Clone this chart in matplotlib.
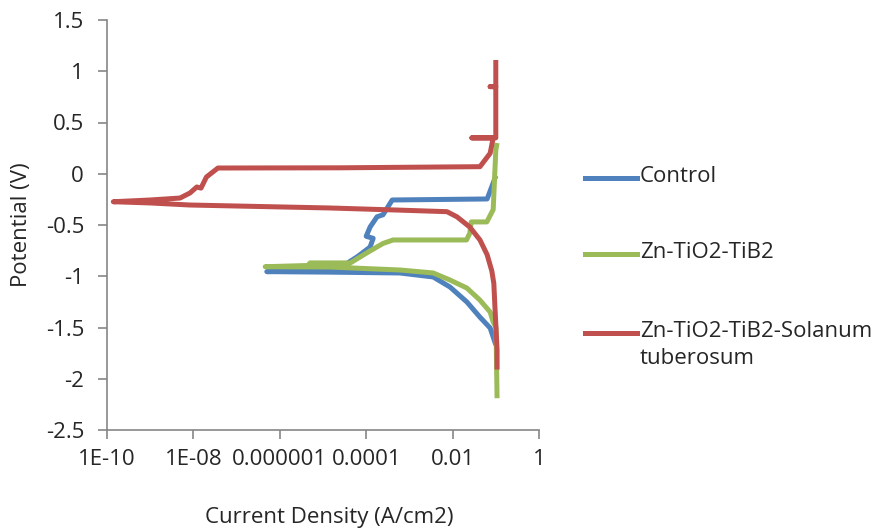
import matplotlib
matplotlib.use("Agg")
import matplotlib.pyplot as plt
from matplotlib.lines import Line2D

plt.rcParams['font.family'] = ['Open Sans', 'DejaVu Sans']

# current density (A/cm2) and potential (V)
control_i = [1.0e-1, 8.7e-2, 7.4e-2, 4.27e-2, 2.14e-2, 8.7e-3, 3.55e-3, 6.0e-4, 1.45e-5, 5.0e-7,
             1.7e-6, 2.45e-5, 6.2e-5, 7.2e-5, 1.23e-4, 1.45e-4, 1.0e-4, 1.23e-4, 1.78e-4,
             2.45e-4, 4.0e-4, 6.3e-2, 8.7e-2, 1.0e-1]
control_v = [-1.67, -1.593, -1.505, -1.398, -1.251, -1.105, -1.007, -0.968, -0.96, -0.955,
             -0.95, -0.92, -0.81, -0.79, -0.715, -0.63, -0.61, -0.52, -0.42,
             -0.40, -0.256, -0.246, -0.09, -0.02]

green_i = [1.07e-1, 1.01e-1, 8.7e-2, 7.4e-2, 4.27e-2, 2.14e-2, 8.7e-3, 3.55e-3, 6.0e-4, 1.45e-5,
           4.6e-7, 4.5e-6, 5.0e-6, 4.3e-5, 1.05e-4, 2.45e-4, 4.2e-4, 2.1e-2, 2.5e-2, 2.7e-2,
           6.2e-2, 8.7e-2, 1.0e-1, 1.07e-1]
green_v = [-2.19, -1.50, -1.446, -1.349, -1.232, -1.115, -1.037, -0.968, -0.939, -0.91,
           -0.907, -0.895, -0.87, -0.87, -0.77, -0.68, -0.646, -0.646, -0.58, -0.47,
           -0.47, -0.35, 0.23, 0.30]

red_i = [1.07e-1, 1.07e-1, 9.5e-2, 9.0e-2, 8.1e-2, 6.3e-2, 4.3e-2, 2.5e-2, 1.26e-2, 7.4e-3,
         5.1e-4, 1.45e-5, 8.3e-9, 1.0e-9, 1.4e-10,
         1.0e-9, 4.9e-9, 8.3e-9, 1.2e-8, 1.5e-8, 2.0e-8, 3.7e-8, 2.45e-5, 4.3e-2,
         7.4e-2, 8.7e-2, 2.8e-2, 1.0e-1, 1.0e-1, 7.4e-2, 1.0e-1, 1.0e-1]
red_v = [-1.91, -1.72, -1.28, -1.07, -0.95, -0.79, -0.646, -0.52, -0.42, -0.37,
         -0.354, -0.334, -0.305, -0.285, -0.273,
         -0.256, -0.237, -0.188, -0.129, -0.14, -0.032, 0.056, 0.058, 0.069,
         0.20, 0.35, 0.35, 0.35, 0.85, 0.85, 0.85, 1.11]

x_ticks = [1e-10, 1e-8, 1e-6, 1e-4, 1e-2, 1]
x_labels = ['1E-10', '1E-08', '0.000001', '0.0001', '0.01', '1']
y_ticks = [-2.5, -2, -1.5, -1, -0.5, 0, 0.5, 1, 1.5]
y_labels = ['-2.5', '-2', '-1.5', '-1', '-0.5', '0', '0.5', '1', '1.5']

names = ['Control', 'Zn-TiO2-TiB2', 'Zn-TiO2-TiB2-Solanum\ntuberosum']
colors = ['#4f81bd', '#9bbb59', '#c0504d']

W, H = 880, 529
fig = plt.figure(figsize=(W / 100, H / 100), dpi=100)
ax = fig.add_axes([107 / W, 1 - 430 / H, (539 - 107) / W, (430 - 20) / H])

lw = 3.6
ax.plot(control_i, control_v, color=colors[0], lw=lw, solid_capstyle='butt')
ax.plot(green_i, green_v, color=colors[1], lw=lw, solid_capstyle='butt')
ax.plot(red_i, red_v, color=colors[2], lw=lw, solid_capstyle='butt')

ax.set_xscale('log')
ax.set_xlim(1e-10, 1)
ax.set_ylim(-2.5, 1.5)
ax.set_xticks(x_ticks)
ax.set_xticklabels(x_labels)
ax.minorticks_off()
ax.set_yticks(y_ticks)
ax.set_yticklabels(y_labels)

for s in ['top', 'right']:
    ax.spines[s].set_visible(False)
for s in ['left', 'bottom']:
    ax.spines[s].set_color('#868686')
    ax.spines[s].set_linewidth(1.2)
ax.tick_params(axis='both', colors='#868686', labelcolor='#262626', labelsize=16,
               length=6.5, width=1.2)
ax.tick_params(axis='y', pad=10)
ax.tick_params(axis='x', pad=7)

fig.text(329 / W, 1 - 517 / H, 'Current Density (A/cm2)', ha='center', va='center',
         fontsize=16, color='#262626')
fig.text(21 / W, 1 - 225 / H, 'Potential (V)', ha='center', va='center',
         rotation=90, fontsize=16, color='#262626')

# legend drawn by hand, handle lines next to the first text line
leg_y = [178, 254, 333]
for name, c, yy in zip(names, colors, leg_y):
    fig.add_artist(Line2D([585 / W, 637 / W], [1 - yy / H, 1 - yy / H],
                          color=c, lw=lw, transform=fig.transFigure))
    fig.text(640 / W, 1 - (yy - 12) / H, name, ha='left', va='top',
             fontsize=16, color='#262626', linespacing=1.4)

fig.savefig('out.png', dpi=100)
